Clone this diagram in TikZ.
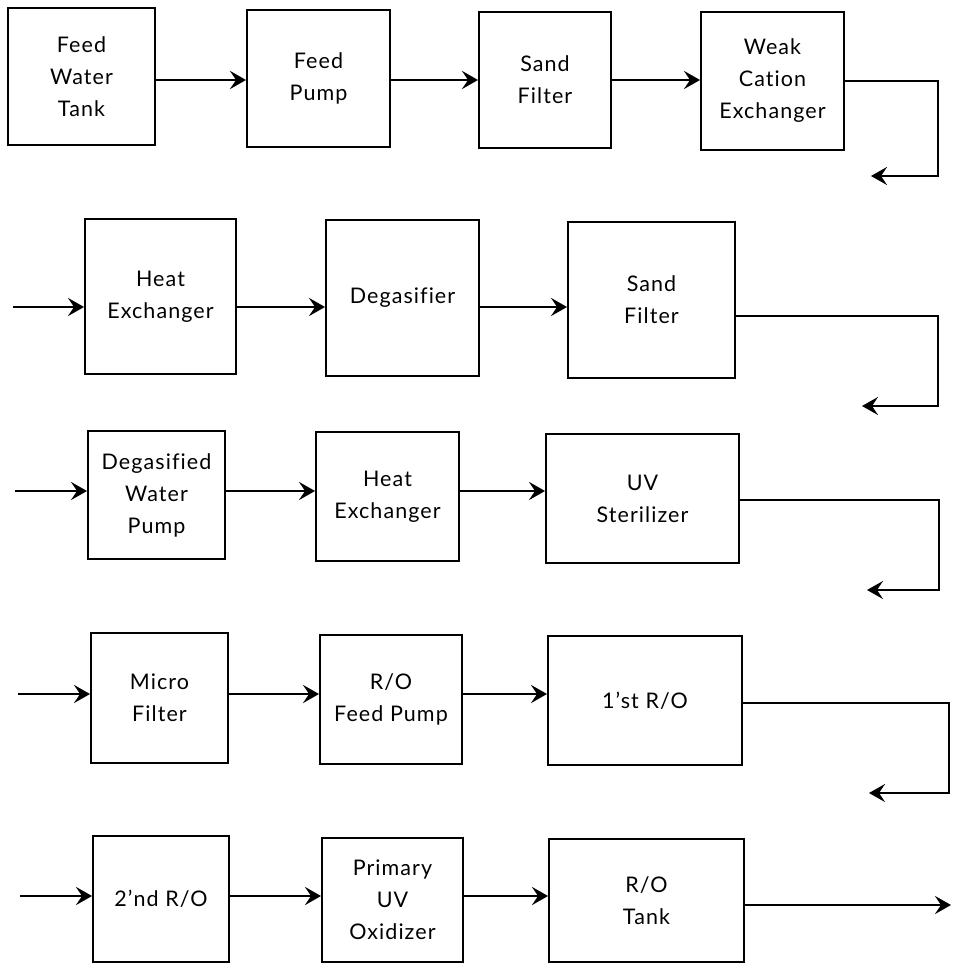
\documentclass[tikz,border=0pt]{standalone}
\usepackage{fontspec}
\setmainfont{Lato}[Ligatures=NoCommon, LetterSpace=5]
\usetikzlibrary{arrows.meta}
\tikzset{
  box/.style={draw, line width=1.9pt, align=center, inner sep=0pt,
    font=\fontsize{21.5}{32}\selectfont},
  flow/.style={line width=2.5pt, -{Stealth[length=16pt,width=18pt,inset=6pt]}}
}
\begin{document}
\begin{tikzpicture}[x=1pt, y=-1pt]
    \useasboundingbox (0,0) rectangle (952,965);
    % row 1
    \node[box, minimum width=147pt, minimum height=137pt] (tank) at (81.5,76.5) {Feed\\Water\\Tank};
    \node[box, minimum width=143pt, minimum height=137pt] (fpump) at (318.5,78.5) {Feed\\Pump};
    \node[box, minimum width=132pt, minimum height=136pt] (sand1) at (545,80) {Sand\\Filter};
    \node[box, minimum width=143pt, minimum height=138pt] (wcat) at (772.5,81) {Weak\\Cation\\Exchanger};
    \coordinate (y1) at (0,80);
    \draw[flow] (tank.east |- y1) -- (fpump.west |- y1);
    \draw[flow] (fpump.east |- y1) -- (sand1.west |- y1);
    \draw[flow] (sand1.east |- y1) -- (wcat.west |- y1);
    \coordinate (c1) at (938,176);
    \coordinate (t1) at (871,176);
    \draw[flow] (wcat.east) -| (c1) -- (t1);
    % row 2
    \node[box, minimum width=151pt, minimum height=155pt] (heat1) at (160.5,296.5) {Heat\\Exchanger};
    \node[box, minimum width=153pt, minimum height=156pt] (degas) at (402.5,298) {Degasifier};
    \node[box, minimum width=167pt, minimum height=156pt] (sand2) at (651.5,300) {Sand\\Filter};
    \coordinate (in2) at (13,307);
    \draw[flow] (in2) -- (in2 -| heat1.west);
    \draw[flow] (heat1.east |- in2) -- (degas.west |- in2);
    \draw[flow] (degas.east |- in2) -- (sand2.west |- in2);
    \coordinate (c2) at (938,406);
    \coordinate (t2) at (862,406);
    \draw[flow] ([yshift=-16pt]sand2.east) -| (c2) -- (t2);
    % row 3
    \node[box, minimum width=137pt, minimum height=128pt] (dwpump) at (156.5,495) {Degasified\\Water\\Pump};
    \node[box, minimum width=143pt, minimum height=129pt] (heat2) at (387.5,496.5) {Heat\\Exchanger};
    \node[box, minimum width=193pt, minimum height=129pt] (uvs) at (642.5,498.5) {UV\\Sterilizer};
    \coordinate (in3) at (15,491);
    \draw[flow] (in3) -- (in3 -| dwpump.west);
    \draw[flow] (dwpump.east |- in3) -- (heat2.west |- in3);
    \draw[flow] (heat2.east |- in3) -- (uvs.west |- in3);
    \coordinate (c3) at (939,590);
    \coordinate (t3) at (867,590);
    \draw[flow] ([yshift=-1.5pt]uvs.east) -| (c3) -- (t3);
    % row 4
    \node[box, minimum width=137pt, minimum height=130pt] (micro) at (159.5,698) {Micro\\Filter};
    \node[box, minimum width=142pt, minimum height=129pt] (rofp) at (391,699.5) {R/O\\Feed Pump};
    \node[box, minimum width=194pt, minimum height=129pt] (ro1) at (645,700.5) {1’st R/O};
    \coordinate (in4) at (18,694);
    \draw[flow] (in4) -- (in4 -| micro.west);
    \draw[flow] (micro.east |- in4) -- (rofp.west |- in4);
    \draw[flow] (rofp.east |- in4) -- (ro1.west |- in4);
    \coordinate (c4) at (949,793);
    \coordinate (t4) at (869,793);
    \draw[flow] ([yshift=-2.5pt]ro1.east) -| (c4) -- (t4);
    % row 5
    \node[box, minimum width=136pt, minimum height=126pt] (ro2) at (161,899) {2’nd R/O};
    \node[box, minimum width=141pt, minimum height=124pt] (puvo) at (392.5,900) {Primary\\UV\\Oxidizer};
    \node[box, minimum width=195pt, minimum height=123pt] (rotank) at (646.5,900.5) {R/O\\Tank};
    \coordinate (in5) at (20,896);
    \draw[flow] (in5) -- (in5 -| ro2.west);
    \draw[flow] (ro2.east |- in5) -- (puvo.west |- in5);
    \draw[flow] (puvo.east |- in5) -- (rotank.west |- in5);
    \coordinate (out) at (951,905);
    \draw[flow] (rotank.east |- out) -- (out);
  \end{tikzpicture}
\end{document}
